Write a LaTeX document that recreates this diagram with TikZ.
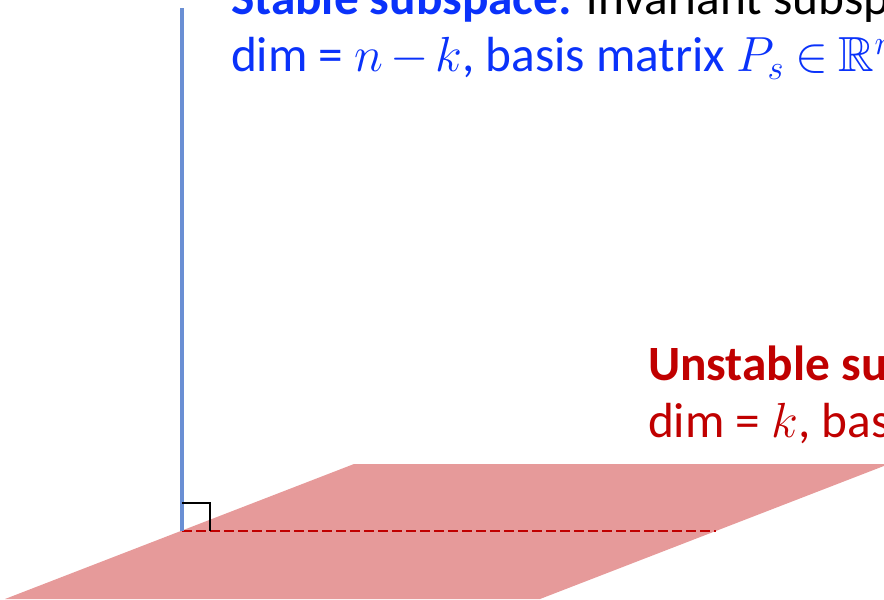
\documentclass[tikz,border=0pt]{standalone}
\usepackage{fix-cm}
\usepackage{fontspec}
\usepackage{amssymb}
\setmainfont{Carlito}
\definecolor{txtblue}{RGB}{10,50,250}
\definecolor{txtred}{RGB}{192,0,0}
\definecolor{axisblue}{RGB}{106,143,212}
\definecolor{planered}{RGB}{230,154,154}
\definecolor{dashred}{RGB}{192,0,0}
\tikzset{
  lbl/.style={anchor=base west, inner sep=0pt, outer sep=0pt, font=\fontsize{37}{44}\selectfont},
  axisline/.style={draw=axisblue, line width=3.4pt},
  planefill/.style={fill=planered, draw=none},
  projline/.style={draw=dashred, line width=1.1pt, dash pattern=on 7.5pt off 3pt},
  rightmark/.style={draw=black, line width=0.8pt}
}
\begin{document}
\begin{tikzpicture}[x=0.75pt, y=-0.75pt]
\useasboundingbox (0,0) rectangle (884,599);
\clip (0,0) rectangle (884,599);
% plane (unstable subspace)
\coordinate (pa) at (5,599);
\coordinate (pb) at (354,464);
\coordinate (pc) at (889,464);
\coordinate (pd) at (540,599);
\path[planefill] (pa) -- (pb) -- (pc) -- (pd) -- cycle;
% origin and axis
\coordinate (o) at (182,531);
\coordinate (top) at (182,8);
\coordinate (dend) at (716,531);
\draw[projline] (o) -- (dend);
\draw[axisline] (o) -- (top);
% right-angle mark
\coordinate (r1) at (182,503);
\coordinate (r2) at (210,503);
\coordinate (r3) at (210,531);
\draw[rightmark] (r1) -- (r2) -- (r3);
% labels
\node[lbl] (s1) at (231,15) {\textcolor{txtblue}{\textbf{Stable subspace:}} invariant subspace};
\node[lbl, text=txtblue] (s2) at (231,72) {\medmuskip=2.5mu\thickmuskip=4mu dim = $n-k$, basis matrix $P_s\in\mathbb{R}^n$};
\node[lbl, text=txtred] (u1) at (648,380) {\textbf{Unstable subspace:}};
\node[lbl, text=txtred] (u2) at (648,437) {dim = $k$, basis};
\end{tikzpicture}
\end{document}
